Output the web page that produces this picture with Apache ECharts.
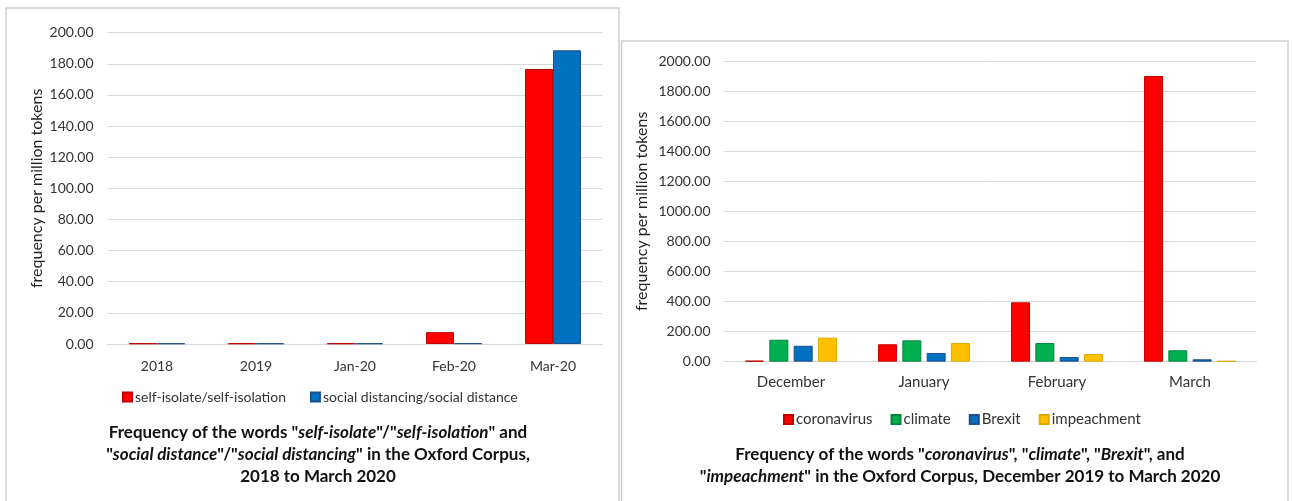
<!DOCTYPE html>
<html>
<head>
<meta charset="utf-8">
<script src="https://cdn.jsdelivr.net/npm/echarts@6/dist/echarts.min.js"></script>
<style>
html,body{margin:0;padding:0;background:#fff;}
#chart{width:1292px;height:501px;}
</style>
</head>
<body>
<div id="chart"></div>
<script>
// ---- Left chart data ----
const leftCategories = ['2018', '2019', 'Jan-20', 'Feb-20', 'Mar-20'];
const selfIsolate = [0.4, 0.4, 0.4, 7.6, 176.7];
const socialDistancing = [0.4, 0.4, 0.4, 0.5, 188.7];
const leftSeriesNames = ['self-isolate/self-isolation', 'social distancing/social distance'];

// ---- Right chart data ----
const rightCategories = ['December', 'January', 'February', 'March'];
const coronavirus = [7, 116, 395, 1900];
const climate = [146, 142, 124, 76];
const brexit = [106, 58, 31, 16];
const impeachment = [160, 124, 51, 5];
const rightSeriesNames = ['coronavirus', 'climate', 'Brexit', 'impeachment'];

const yName = 'frequency per million tokens';
const FONT = 'Lato, "Open Sans", sans-serif';
const TXT = '#333333';

const chart = echarts.init(document.getElementById('chart'), null, {renderer: 'canvas'});

function barSeries(name, data, color, border, xi, extra) {
  return Object.assign({
    name: name, type: 'bar', data: data,
    xAxisIndex: xi, yAxisIndex: xi,
    itemStyle: {color: color, borderColor: border, borderWidth: 1},
    emphasis: {disabled: true},
    animation: false
  }, extra || {});
}

const titleRich = {
  b: {fontFamily: FONT, fontWeight: 'bold', fontStyle: 'normal', fontSize: 17, color: '#111', lineHeight: 22},
  i: {fontFamily: FONT, fontWeight: 'bold', fontStyle: 'italic', fontSize: 17, color: '#111', lineHeight: 22}
};

const option = {
  backgroundColor: '#fff',
  animation: false,
  graphic: [
    {type: 'rect', shape: {x: 6, y: 8, width: 613, height: 520}, style: {fill: 'none', stroke: '#cfcfcf', lineWidth: 1.5}, z: -1},
    {type: 'rect', shape: {x: 621.5, y: 41, width: 666.5, height: 520}, style: {fill: '#fff', stroke: '#cfcfcf', lineWidth: 1.5}, z: -1}
  ],
  title: [
    {
      left: 313, top: 417, textAlign: 'center', padding: 5,
      text: '{b|Frequency of the words "}{i|self-isolate}{b|"/"}{i|self-isolation}{b|" and}\n{b|"}{i|social distance}{b|"/"}{i|social distancing}{b|" in the Oxford Corpus,}\n{b|2018 to March 2020}',
      textStyle: {rich: titleRich, align: 'center'}
    },
    {
      left: 955, top: 439, textAlign: 'center', padding: 5,
      text: '{b|Frequency of the words "}{i|coronavirus}{b|", "}{i|climate}{b|", "}{i|Brexit}{b|", and}\n{b|"}{i|impeachment}{b|" in the Oxford Corpus, December 2019 to March 2020}',
      textStyle: {rich: titleRich, align: 'center'}
    }
  ],
  legend: [
    {
      data: leftSeriesNames, left: 122, top: 390, padding: 0, icon: 'rect', itemWidth: 9, itemHeight: 9, itemGap: 24,
      textStyle: {fontFamily: FONT, fontSize: 14, color: TXT, padding: [0, 0, 0, -2]},
      selectedMode: false
    },
    {
      data: rightSeriesNames, left: 783, top: 412, padding: 0, icon: 'rect', itemWidth: 9, itemHeight: 9, itemGap: 18,
      textStyle: {fontFamily: FONT, fontSize: 15, color: TXT, padding: [0, 0, 0, -2]},
      selectedMode: false
    }
  ],
  grid: [
    {left: 107.5, width: 495, top: 32.7, height: 311.3, containLabel: false},
    {left: 724.5, width: 532, top: 61, height: 300.7, containLabel: false}
  ],
  xAxis: [
    {
      type: 'category', gridIndex: 0, data: leftCategories,
      axisLine: {lineStyle: {color: '#d9d9d9', width: 1}}, axisTick: {show: false},
      axisLabel: {fontFamily: FONT, fontSize: 14, color: TXT, margin: 15}
    },
    {
      type: 'category', gridIndex: 1, data: rightCategories,
      axisLine: {lineStyle: {color: '#d9d9d9', width: 1}}, axisTick: {show: false},
      axisLabel: {fontFamily: FONT, fontSize: 15, color: TXT, margin: 13}
    }
  ],
  yAxis: [
    {
      type: 'value', gridIndex: 0, min: 0, max: 200, interval: 20,
      axisLine: {show: false}, axisTick: {show: false},
      splitLine: {lineStyle: {color: '#d9d9d9', width: 1}},
      axisLabel: {fontFamily: FONT, fontSize: 14, color: TXT, margin: 14, formatter: v => v.toFixed(2)},
      name: yName, nameLocation: 'middle', nameGap: 63,
      nameTextStyle: {fontFamily: FONT, fontSize: 16, color: '#222'}
    },
    {
      type: 'value', gridIndex: 1, min: 0, max: 2000, interval: 200,
      axisLine: {show: false}, axisTick: {show: false},
      splitLine: {lineStyle: {color: '#d9d9d9', width: 1}},
      axisLabel: {fontFamily: FONT, fontSize: 14, color: TXT, margin: 14, formatter: v => v.toFixed(2)},
      name: yName, nameLocation: 'middle', nameGap: 75,
      nameTextStyle: {fontFamily: FONT, fontSize: 16, color: '#222'}
    }
  ],
  series: [
    barSeries(leftSeriesNames[0], selfIsolate, '#FF0000', '#C00000', 0, {barWidth: 28, barGap: '0%'}),
    barSeries(leftSeriesNames[1], socialDistancing, '#0070C0', '#1F4E8C', 0, {barWidth: 28, barGap: '0%'}),
    barSeries(rightSeriesNames[0], coronavirus, '#FF0000', '#C00000', 1, {barWidth: 19, barGap: '28%'}),
    barSeries(rightSeriesNames[1], climate, '#00B050', '#00873D', 1, {barWidth: 19, barGap: '28%'}),
    barSeries(rightSeriesNames[2], brexit, '#0070C0', '#1F4E8C', 1, {barWidth: 19, barGap: '28%'}),
    barSeries(rightSeriesNames[3], impeachment, '#FFC000', '#E0A800', 1, {barWidth: 19, barGap: '28%'})
  ]
};
chart.setOption(option);
</script>
</body>
</html>
